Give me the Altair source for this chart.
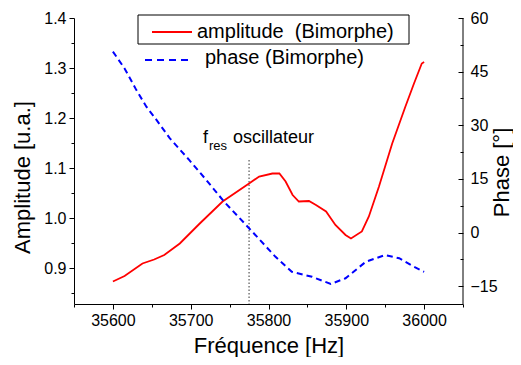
import altair as alt
import pandas as pd

# ---------------- data ----------------
freq_amp = [35600, 35615, 35638, 35653, 35666, 35686, 35711, 35741, 35775, 35788,
            35805, 35814, 35822, 35831, 35839, 35852, 35861, 35874, 35886, 35899,
            35906, 35920, 35929, 35942, 35959, 35976, 35987, 35997, 36000]
amplitude = [0.873, 0.884, 0.909, 0.917, 0.926, 0.949, 0.988, 1.033, 1.069, 1.083,
             1.089, 1.089, 1.073, 1.046, 1.033, 1.034, 1.026, 1.013, 0.986, 0.966,
             0.959, 0.973, 1.003, 1.063, 1.149, 1.223, 1.269, 1.309, 1.312]

freq_phase = [35600, 35615, 35630, 35643, 35656, 35673, 35698, 35720, 35743, 35775,
              35795, 35809, 35830, 35856, 35880, 35899, 35925, 35950, 35968, 35987, 36000]
phase = [50.6, 45.9, 39.9, 35.2, 31.5, 26.4, 20.3, 14.7, 8.6, 1.2,
         -3.5, -6.8, -11.0, -12.4, -14.4, -12.8, -8.2, -6.3, -7.2, -9.6, -11.0]

f_res = [35775]
f_res_top = [1.116]

x_major = [35600, 35700, 35800, 35900, 36000]
x_minor = [35550, 35650, 35750, 35850, 35950, 36050]
amp_major = [0.9, 1.0, 1.1, 1.2, 1.3, 1.4]
amp_minor = [0.85, 0.95, 1.05, 1.15, 1.25, 1.35]
phase_major = [-15, 0, 15, 30, 45, 60]
phase_minor = [-7.5, 7.5, 22.5, 37.5, 52.5]

series_labels = ["amplitude\u00a0 (Bimorphe)", "phase (Bimorphe)"]

# ---------------- layout ----------------
W, H = 389, 286
FONT = "Liberation Sans"
RED = "#ff0000"
BLUE = "#0000ff"

df_amp = pd.DataFrame({"freq": freq_amp, "amp": amplitude})
df_ph = pd.DataFrame({"freq": freq_phase, "phase": phase})
df_rule = pd.DataFrame({"freq": f_res, "top": f_res_top})
dummy = pd.DataFrame({"v": [0]})

x_scale = alt.Scale(domain=[35550, 36050], nice=False, zero=False)
amp_scale = alt.Scale(domain=[0.828, 1.4], nice=False, zero=False)
ph_scale = alt.Scale(domain=[-20, 60], nice=False, zero=False)

common = dict(domainColor="black", tickColor="black", labelColor="black",
              titleColor="black", grid=False)

x_main = alt.X(
    "freq:Q", scale=x_scale, title="Fréquence [Hz]",
    axis=alt.Axis(
        orient="bottom", values=x_major, format="d", tickSize=5,
        labelFontSize=16, labelPadding=3, labelFlush=False, labelOverlap=False,
        titleFontSize=22, titleFontWeight="normal", titleBaseline="alphabetic", titleY=48,
        **common,
    ),
)
x_none = alt.X("freq:Q", scale=x_scale, axis=None)

amp_line = alt.Chart(df_amp).mark_line(color=RED, strokeWidth=1.8).encode(
    x=x_main,
    y=alt.Y(
        "amp:Q", scale=amp_scale, title="Amplitude [u.a.]",
        axis=alt.Axis(
            orient="left", values=amp_major, format=".1f", tickSize=5,
            labelFontSize=16, labelPadding=3, labelOverlap=False, labelFlush=False,
            titleFontSize=22, titleFontWeight="normal", titleAngle=270,
            titleBaseline="alphabetic", titleX=-45, titleY=159, titleAlign="center",
            **common,
        ),
    ),
)

amp_minor_axis = alt.Chart(df_amp).mark_line(opacity=0).encode(
    x=x_main,
    y=alt.Y(
        "amp:Q", scale=amp_scale, title=None,
        axis=alt.Axis(orient="left", values=amp_minor, tickSize=3, labels=False,
                      domain=False, tickColor="black", grid=False),
    ),
)

rule = alt.Chart(df_rule).mark_rule(color="#333333", strokeDash=[1.5, 2], strokeWidth=1).encode(
    x=x_main,
    y=alt.Y("top:Q", scale=amp_scale, axis=None),
    y2=alt.value(H),
)

amp_group = alt.layer(rule, amp_line, amp_minor_axis).resolve_axis(y="independent")

phase_line = alt.Chart(df_ph).mark_line(color=BLUE, strokeWidth=2, strokeDash=[6, 4]).encode(
    x=x_none,
    y=alt.Y(
        "phase:Q", scale=ph_scale, title="Phase [°]",
        axis=alt.Axis(
            orient="right", offset=-5, domain=False, values=phase_major, format="d",
            tickSize=5, labelFontSize=16, labelPadding=7, labelOverlap=False, labelFlush=False,
            titleFontSize=22, titleFontWeight="normal", titleAngle=270,
            titleBaseline="alphabetic", titleX=50, titleY=154, titleAlign="center",
            tickColor="black", labelColor="black", titleColor="black", grid=False,
        ),
    ),
)

phase_minor_axis = alt.Chart(df_ph).mark_line(opacity=0).encode(
    x=x_none,
    y=alt.Y(
        "phase:Q", scale=ph_scale, title=None,
        axis=alt.Axis(orient="right", offset=-3, values=phase_minor, tickSize=3,
                      labels=False, domain=False, tickColor="black", grid=False),
    ),
)

phase_group = alt.layer(phase_line, phase_minor_axis).resolve_axis(y="independent")

x_minor_axis = alt.Chart(df_amp).mark_line(opacity=0).encode(
    x=alt.X("freq:Q", scale=x_scale, title=None,
            axis=alt.Axis(orient="bottom", values=x_minor, tickSize=3, labels=False,
                          domain=False, tickColor="black", grid=False)),
)

right_line = alt.Chart(dummy).mark_rule(color="black", strokeWidth=1).encode(
    x=alt.value(W), y=alt.value(0), y2=alt.value(H)
)

legend_box = alt.Chart(dummy).mark_rect(fill="transparent", stroke="black", strokeWidth=1).encode(
    x=alt.value(138 - 74), x2=alt.value(409 - 74), y=alt.value(15 - 18), y2=alt.value(44 - 18)
)
leg_red = alt.Chart(dummy).mark_rule(color=RED, strokeWidth=1.8).encode(
    x=alt.value(152 - 74), x2=alt.value(192 - 74), y=alt.value(32 - 18)
)
leg_blue = alt.Chart(dummy).mark_rule(color=BLUE, strokeWidth=2, strokeDash=[7, 5]).encode(
    x=alt.value(145 - 74), x2=alt.value(190 - 74), y=alt.value(60 - 18)
)
leg_t1 = alt.Chart(dummy).mark_text(align="left", baseline="alphabetic", fontSize=20, color="black").encode(
    x=alt.value(197 - 74), y=alt.value(38 - 18), text=alt.value(series_labels[0])
)
leg_t2 = alt.Chart(dummy).mark_text(align="left", baseline="alphabetic", fontSize=20, color="black").encode(
    x=alt.value(205 - 74), y=alt.value(64 - 18), text=alt.value(series_labels[1])
)

ann_f = alt.Chart(dummy).mark_text(align="left", baseline="alphabetic", fontSize=18, color="black").encode(
    x=alt.value(203 - 74), y=alt.value(143 - 18), text=alt.value("f")
)
ann_res = alt.Chart(dummy).mark_text(align="left", baseline="alphabetic", fontSize=13, color="black").encode(
    x=alt.value(209 - 74), y=alt.value(150 - 18), text=alt.value("res")
)
ann_osc = alt.Chart(dummy).mark_text(align="left", baseline="alphabetic", fontSize=18, color="black").encode(
    x=alt.value(233 - 74), y=alt.value(143 - 18), text=alt.value("oscillateur")
)

chart = alt.layer(
    amp_group, phase_group, x_minor_axis, right_line, legend_box, leg_red, leg_blue,
    leg_t1, leg_t2, ann_f, ann_res, ann_osc,
).resolve_scale(y="independent").resolve_axis(x="independent", y="independent").properties(
    width=W, height=H,
    autosize=alt.AutoSizeParams(type="none"),
    padding={"left": 66, "top": 10, "right": 50, "bottom": 53},
).configure(font=FONT, background="white").configure_view(stroke=None)

chart.save("out.html", embed_options={"renderer": "svg", "actions": False})
